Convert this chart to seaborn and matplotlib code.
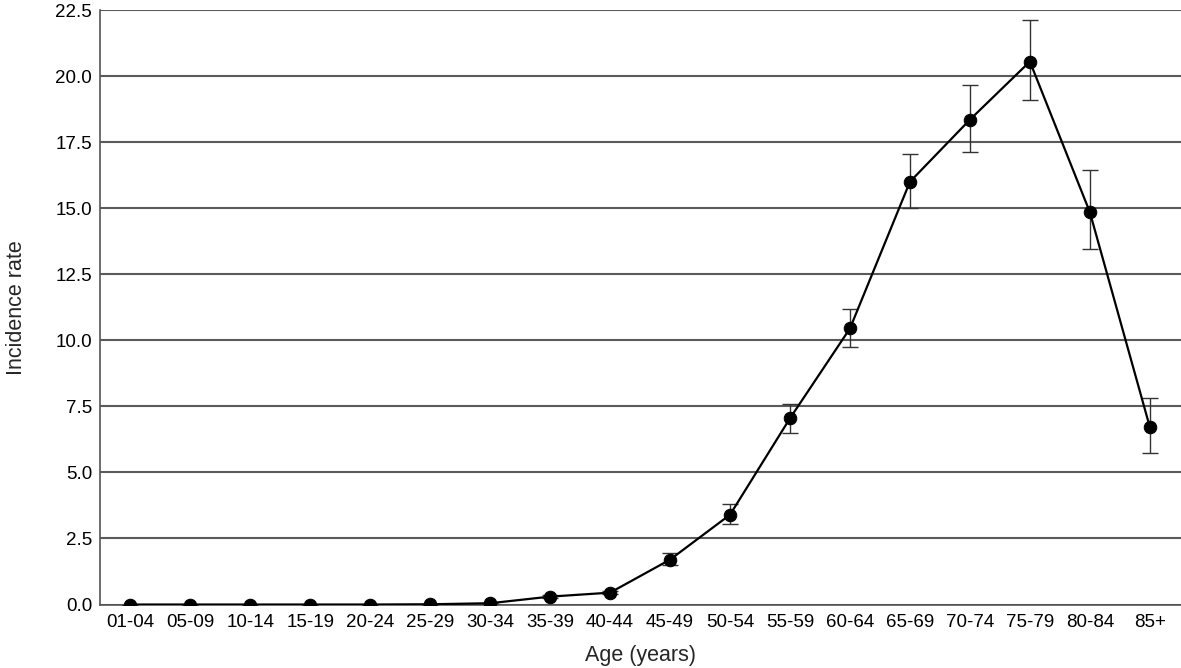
import numpy as np
import pandas as pd
import matplotlib
matplotlib.use("Agg")
import matplotlib.pyplot as plt
import seaborn as sns

# Age groups and incidence rates
age_groups = ["01-04", "05-09", "10-14", "15-19", "20-24", "25-29", "30-34", "35-39", "40-44",
              "45-49", "50-54", "55-59", "60-64", "65-69", "70-74", "75-79", "80-84", "85+"]
rate = [0.0, 0.0, 0.0, 0.0, 0.0, 0.01, 0.05, 0.3, 0.45,
        1.7, 3.4, 7.05, 10.45, 16.0, 18.35, 20.55, 14.85, 6.72]
ci_low = [0.0, 0.0, 0.0, 0.0, 0.0, 0.0, 0.03, 0.25, 0.38,
          1.5, 3.05, 6.5, 9.75, 15.0, 17.13, 19.1, 13.45, 5.75]
ci_high = [0.0, 0.0, 0.0, 0.0, 0.0, 0.02, 0.07, 0.35, 0.52,
           1.95, 3.8, 7.6, 11.2, 17.06, 19.67, 22.12, 16.45, 7.83]

df = pd.DataFrame({"age": age_groups, "rate": rate})

sns.set_style("white")
plt.rcParams["font.family"] = ["Liberation Sans", "DejaVu Sans"]

fig, ax = plt.subplots(figsize=(11.81, 6.68), dpi=100)

x = np.arange(len(age_groups))
yerr = [np.array(rate) - np.array(ci_low), np.array(ci_high) - np.array(rate)]
ax.errorbar(x, rate, yerr=yerr, fmt="none", ecolor="#333333", elinewidth=1.0,
            capsize=6, capthick=1.0, zorder=3)
sns.lineplot(data=df, x="age", y="rate", ax=ax, color="black", linewidth=1.6,
             marker="o", markersize=9, markeredgecolor="black", zorder=4, sort=False)

ax.set_xlim(-0.5, len(age_groups) - 0.48)
ax.set_ylim(0, 22.5)
ax.set_yticks(np.arange(0, 22.6, 2.5))
ax.set_yticklabels([f"{v:.1f}" for v in np.arange(0, 22.6, 2.5)])
ax.set_xticks(x)
ax.set_xticklabels(age_groups)

ax.yaxis.grid(True, color="#5a5a5a", linewidth=1.5)
ax.set_axisbelow(True)
for side in ["top", "right"]:
    ax.spines[side].set_visible(False)
for side in ["left", "bottom"]:
    ax.spines[side].set_color("#555555")
    ax.spines[side].set_linewidth(1.2)

ax.tick_params(axis="both", labelsize=13.5, colors="black", length=5, width=1,
               color="#555555", direction="out", pad=2)
ax.tick_params(axis="y", length=4)
ax.set_xlabel("Age (years)", fontsize=15.5, labelpad=10)
ax.set_ylabel("Incidence rate", fontsize=15.5)
ax.yaxis.set_label_coords(-0.068, 0.5)

fig.subplots_adjust(left=0.085, right=1.0, top=0.985, bottom=0.095)
fig.savefig("out.png", dpi=100)
